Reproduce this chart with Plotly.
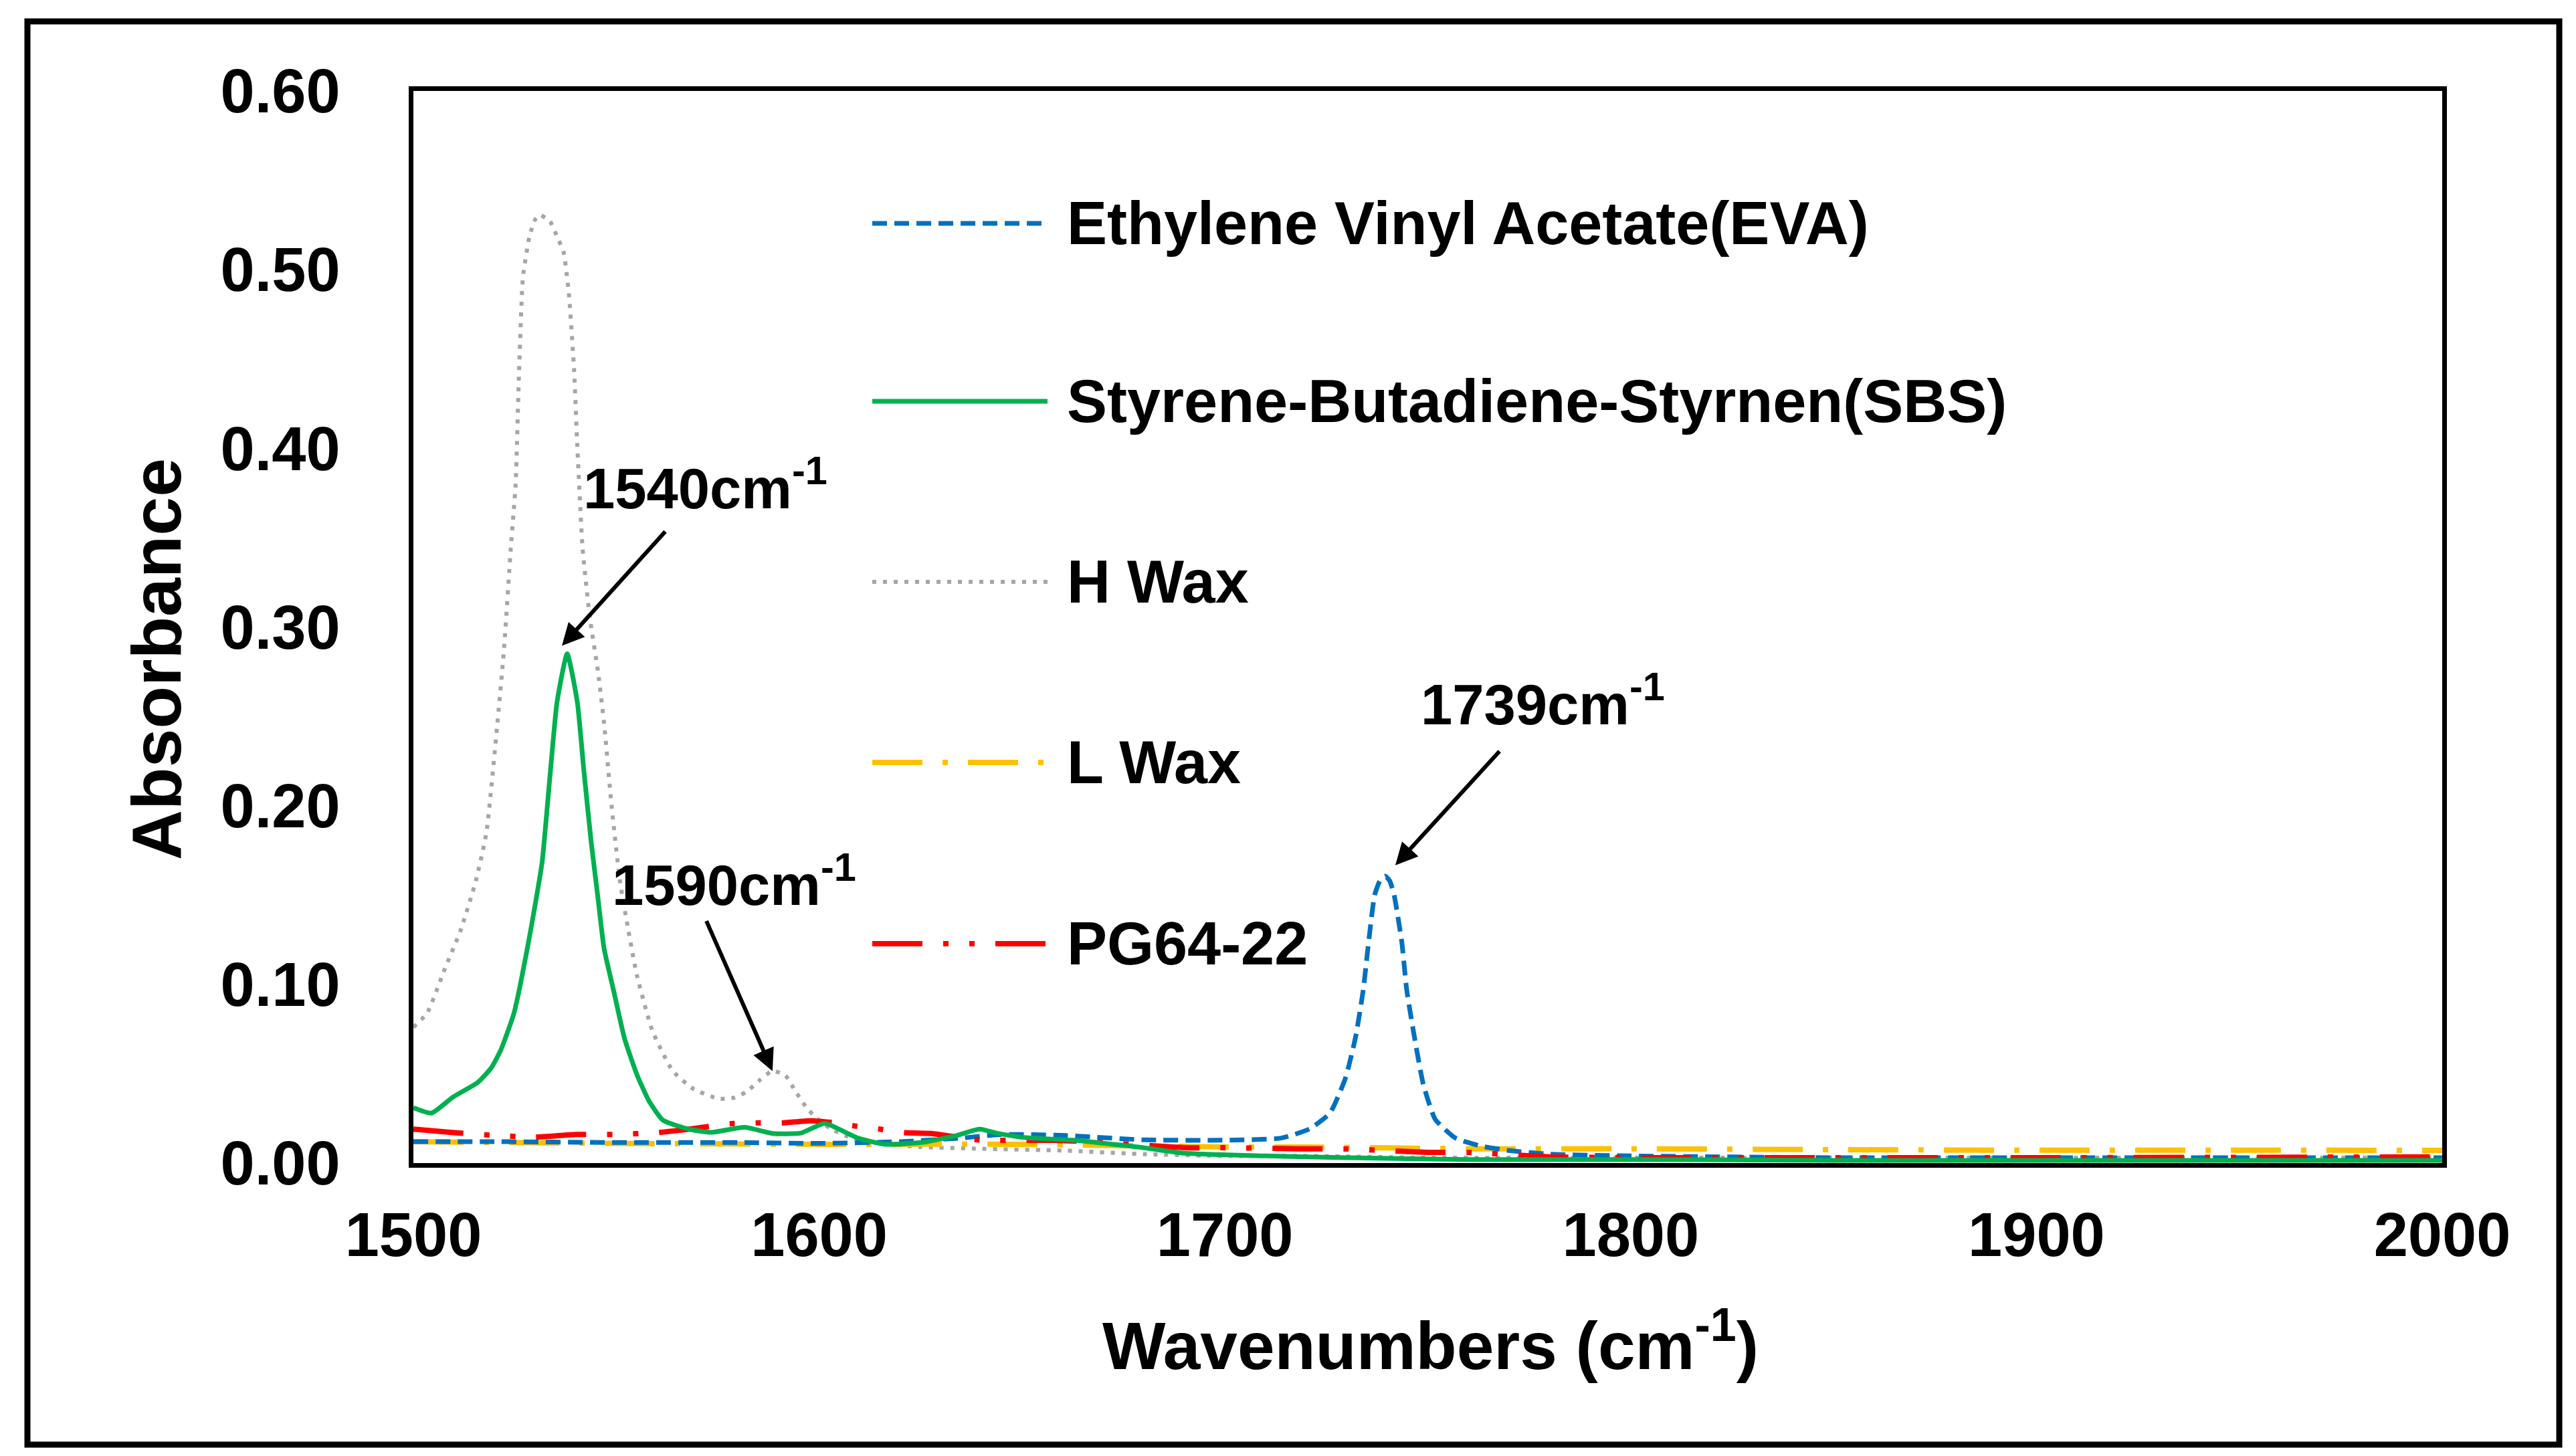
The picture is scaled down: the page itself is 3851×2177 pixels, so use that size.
import plotly.graph_objects as go

# --- data (wavenumber in cm-1, absorbance) ---
eva_x = [1500, 1520, 1550, 1580, 1600, 1620, 1635, 1645, 1660, 1680, 1700, 1713.9, 1720.9,
         1725.9, 1729.7, 1732.2, 1734.1, 1735.4, 1736.9, 1738.2, 1739.5, 1740.6, 1741.7,
         1743.6, 1744.8, 1746.7, 1748.9, 1751.8, 1756.8, 1763.1, 1770, 1780, 1800, 1850,
         1900, 1950, 2000]
eva_y = [0.012, 0.012, 0.0115, 0.0115, 0.011, 0.012, 0.014, 0.016, 0.0155, 0.013, 0.0128,
         0.014, 0.0192, 0.028, 0.0475, 0.0705, 0.097, 0.1235, 0.150, 0.158, 0.1606, 0.158,
         0.150, 0.1235, 0.097, 0.0705, 0.044, 0.0246, 0.014, 0.0095, 0.007, 0.005, 0.004,
         0.003, 0.003, 0.003, 0.003]

sbs_x = [1500, 1504.5, 1509.8, 1515.8, 1519.1, 1521.5, 1524.8, 1528.4, 1531.7, 1533.6, 1535.4,
         1537.9, 1540.4, 1542.0, 1543.8, 1545.4, 1547, 1549.4, 1552, 1555, 1558, 1561.5,
         1567.8, 1573.5, 1581.6, 1588.5, 1595.5, 1601.4, 1609.4, 1616.3, 1625.5, 1633.7,
         1639.5, 1644, 1651, 1662.5, 1678.7, 1690, 1710, 1730, 1760, 1800, 1850, 1900, 1950,
         2000]
sbs_y = [0.031, 0.028, 0.037, 0.045, 0.053, 0.063, 0.084, 0.124, 0.168, 0.215, 0.258, 0.285,
         0.258, 0.22, 0.18, 0.15, 0.12, 0.096, 0.07, 0.05, 0.035, 0.024, 0.019, 0.0172,
         0.0200, 0.0166, 0.0168, 0.0222, 0.0141, 0.0105, 0.0116, 0.0153, 0.019, 0.0166,
         0.0142, 0.0128, 0.009, 0.0055, 0.004, 0.003, 0.002, 0.002, 0.0015, 0.0015, 0.0015,
         0.0015]

hwax_x = [1500, 1503.4, 1507.8, 1511.6, 1515.4, 1518, 1520.6, 1522.3, 1524, 1525.2, 1526,
          1527, 1528.6, 1530, 1531.2, 1532.5, 1533.7, 1535.5, 1537, 1538.3, 1539.6, 1540.4,
          1541.7, 1543.5, 1545.5, 1547.1, 1548.8, 1550.9, 1553, 1555.1, 1558.9, 1563.9,
          1569, 1575.3, 1579.1, 1582.2, 1585.4, 1588.5, 1591.7, 1594.2, 1596.7, 1599.2,
          1603, 1608, 1615, 1625, 1640, 1660, 1680, 1700, 1720, 1750, 1800, 1850, 1900,
          1950, 2000]
hwax_y = [0.076, 0.084, 0.109, 0.130, 0.158, 0.185, 0.2437, 0.2867, 0.344, 0.38, 0.44,
          0.4957, 0.5186, 0.528, 0.5307, 0.529, 0.527, 0.518, 0.510, 0.487, 0.444, 0.401,
          0.344, 0.305, 0.275, 0.2437, 0.2008, 0.158, 0.130, 0.105, 0.074, 0.0516, 0.0415,
          0.036, 0.0366, 0.040, 0.0465, 0.0516, 0.049, 0.040, 0.0316, 0.0254, 0.019, 0.014,
          0.011, 0.009, 0.008, 0.007, 0.005, 0.004, 0.004, 0.003, 0.003, 0.003, 0.003,
          0.003, 0.003]

lwax_x = [1500, 1550, 1600, 1650, 1700, 1720, 1760, 1800, 1850, 1900, 1950, 2000]
lwax_y = [0.012, 0.011, 0.0105, 0.0105, 0.009, 0.009, 0.008, 0.008, 0.0075, 0.0072, 0.0072,
          0.0071]

pg_x = [1500, 1510, 1520, 1530, 1540, 1550, 1560, 1568, 1578, 1585, 1591, 1598, 1604, 1609,
        1615, 1621, 1628, 1639, 1658, 1670, 1690, 1700, 1718, 1730, 1750, 1760, 1780, 1800,
        1850, 1900, 1950, 2000]
pg_y = [0.019, 0.017, 0.0155, 0.0145, 0.016, 0.016, 0.017, 0.019, 0.022, 0.0225, 0.0225,
        0.0237, 0.0225, 0.0207, 0.019, 0.017, 0.0165, 0.013, 0.0127, 0.0115, 0.0086, 0.0086,
        0.008, 0.0079, 0.006, 0.006, 0.0035, 0.003, 0.003, 0.003, 0.0032, 0.0035]

names = ["Ethylene Vinyl Acetate(EVA)", "Styrene-Butadiene-Styrnen(SBS)", "H Wax", "L Wax",
         "PG64-22"]
colors = ["#0070C0", "#00B050", "#A6A6A6", "#FFC000", "#FF0000"]
dashes = ["22px,11px", "solid", "6px,10px", "75px,30px,8px,30px",
          "75px,31px,8px,31px,8px,31px"]
widths = [7, 7, 6, 8, 8]

x_ticks = [1500, 1600, 1700, 1800, 1900, 2000]
y_ticks = [0.0, 0.1, 0.2, 0.3, 0.4, 0.5, 0.6]

# peak callouts: label, arrow tip (x, y), arrow tail (x, y), label centre (x, y)
callouts = [
    ("1540", (1536.6, 0.2895), (1562.3, 0.354), (1571.9, 0.380)),
    ("1590", (1588.5, 0.0515), (1572.1, 0.136), (1579.1, 0.158)),
    ("1739", (1742.0, 0.1667), (1767.9, 0.231), (1778.3, 0.259)),
]

# --- page geometry (pixels of the 3851x2177 picture) ---
W, H = 3851, 2177
PL, PR, PT, PB = 610, 3643, 128, 1731
FONT = "Liberation Sans, Arial, sans-serif"


def paper(px, py):
    return (px - PL) / (PR - PL), (PB - py) / (PB - PT)


fig = go.Figure()
series = [(eva_x, eva_y), (sbs_x, sbs_y), (hwax_x, hwax_y), (lwax_x, lwax_y), (pg_x, pg_y)]
# draw order: grey first so coloured lines sit on top
for i in [2, 3, 0, 4, 1]:
    xs, ys = series[i]
    fig.add_trace(go.Scatter(
        x=xs, y=ys, mode="lines", name=names[i], showlegend=False,
        line=dict(color=colors[i], width=widths[i], dash=dashes[i],
                  shape="spline", smoothing=0.5),
    ))

shapes = []
annotations = []

# hand-drawn legend (long sample lines like the original)
row_y = [326, 592, 862, 1132, 1403]
for i, ry in enumerate(row_y):
    x0, y0 = paper(1296, ry)
    x1, _ = paper(1558, ry)
    shapes.append(dict(type="line", xref="paper", yref="paper", x0=x0, x1=x1, y0=y0, y1=y0,
                       line=dict(color=colors[i], width=widths[i], dash=dashes[i])))
    tx, _ = paper(1585, ry)
    annotations.append(dict(xref="paper", yref="paper", x=tx, y=y0, xanchor="left",
                            yanchor="middle", showarrow=False, text=names[i],
                            font=dict(family=FONT, size=90, color="black", weight="bold")))

# outer frame
bx0, by1 = paper(33, 24)
bx1, by0 = paper(3818, 2152)
shapes.append(dict(type="rect", xref="paper", yref="paper", x0=bx0, x1=bx1, y0=by0, y1=by1,
                   line=dict(color="black", width=9), layer="below"))

for label, tip, tail, pos in callouts:
    annotations.append(dict(xref="x", yref="y", axref="x", ayref="y", x=tip[0], y=tip[1],
                            ax=tail[0], ay=tail[1], text="", showarrow=True, arrowhead=2,
                            arrowsize=1.1, arrowwidth=6, arrowcolor="black", standoff=0))
    annotations.append(dict(xref="x", yref="y", x=pos[0], y=pos[1], showarrow=False,
                            text=f"{label}cm<sup>-1</sup>", xanchor="center",
                            yanchor="middle",
                            font=dict(family=FONT, size=85, color="black", weight="bold")))

# axis titles as annotations so they sit where the original puts them
ax_, ay_ = paper(226, 978)
annotations.append(dict(xref="paper", yref="paper", x=ax_, y=ay_, textangle=-90,
                        showarrow=False, text="Absorbance", xanchor="center",
                        yanchor="middle",
                        font=dict(family=FONT, size=104, color="black", weight="bold")))
wx, wy = paper(2130, 1997)
annotations.append(dict(xref="paper", yref="paper", x=wx, y=wy, showarrow=False,
                        text="Wavenumbers (cm<sup>-1</sup>)", xanchor="center",
                        yanchor="middle",
                        font=dict(family=FONT, size=100, color="black", weight="bold")))

fig.update_layout(
    width=W, height=H,
    margin=dict(l=PL, r=W - PR, t=PT, b=H - PB, pad=0),
    paper_bgcolor="white", plot_bgcolor="white",
    shapes=shapes, annotations=annotations,
    xaxis=dict(range=[1500, 2000], tickvals=x_ticks, ticks="", showgrid=False,
               zeroline=False, showline=True, linecolor="black", linewidth=7, mirror=True,
               ticklabelstandoff=22,
               tickfont=dict(family=FONT, size=92, color="black", weight="bold")),
    yaxis=dict(range=[0, 0.6], tickvals=y_ticks, tickformat=".2f", ticks="",
               showgrid=False, zeroline=False, showline=True, linecolor="black",
               linewidth=7, mirror=True, ticklabelstandoff=84,
               tickfont=dict(family=FONT, size=92, color="black", weight="bold")),
)

fig.write_html("out.html")
